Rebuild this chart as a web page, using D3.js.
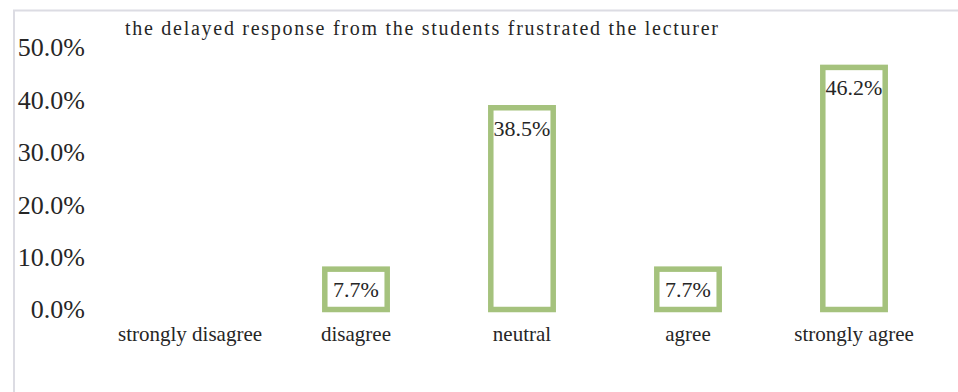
<!DOCTYPE html>
<html>
<head>
<meta charset="utf-8">
<script src="https://cdn.jsdelivr.net/npm/d3@7"></script>
<style>
  html, body { margin: 0; padding: 0; background: #fff; }
  svg { display: block; }
  text { font-family: "Liberation Serif", "Times New Roman", serif; fill: #262626; }
</style>
</head>
<body>
<svg id="chart" width="958" height="392"></svg>
<script>
// Survey responses
const title = "the delayed response from the students frustrated the lecturer";
const categories = ["strongly disagree", "disagree", "neutral", "agree", "strongly agree"];
const values = [0, 7.7, 38.5, 7.7, 46.2];
const tickValues = [0, 10, 20, 30, 40, 50];

const svg = d3.select("#chart");

// chart frame
svg.append("rect")
  .attr("x", 14).attr("y", 10.5)
  .attr("width", 960).attr("height", 400)
  .attr("fill", "none")
  .attr("stroke", "#dcdce3")
  .attr("stroke-width", 2);

const x = d3.scaleBand()
  .domain(categories)
  .range([107, 937])
  .paddingInner(0.624)
  .paddingOuter(0.312);

const y = d3.scaleLinear()
  .domain([0, 50])
  .range([309.5, 47.5]);

// y axis labels (no line, no ticks)
const yAxis = d3.axisLeft(y)
  .tickValues(tickValues)
  .tickFormat(d => d3.format(".1f")(d) + "%")
  .tickSize(0)
  .tickPadding(0);

const gy = svg.append("g")
  .attr("transform", "translate(85,0)")
  .call(yAxis);
gy.select(".domain").remove();
gy.selectAll("text")
  .style("font-family", "'Liberation Serif', serif")
  .style("font-size", "26px")
  .attr("fill", "#262626");

// x axis labels
const xAxis = d3.axisBottom(x).tickSize(0).tickPadding(0);
const gx = svg.append("g")
  .attr("transform", "translate(0,326)")
  .call(xAxis);
gx.select(".domain").remove();
gx.selectAll("text")
  .style("font-family", "'Liberation Serif', serif")
  .style("font-size", "21px")
  .attr("fill", "#262626");

// bars: outlined only
const data = categories.map((c, i) => ({ c, v: values[i] }));
svg.append("g")
  .selectAll("rect")
  .data(data.filter(d => d.v > 0))
  .join("rect")
  .attr("x", d => x(d.c))
  .attr("y", d => y(d.v))
  .attr("width", x.bandwidth())
  .attr("height", d => y(0) - y(d.v))
  .attr("fill", "#fff")
  .attr("stroke", "#a5c27d")
  .attr("stroke-width", 5.5);

// value labels inside bar tops
svg.append("g")
  .selectAll("text")
  .data(data.filter(d => d.v > 0))
  .join("text")
  .attr("x", d => x(d.c) + x.bandwidth() / 2)
  .attr("y", d => y(d.v) + 28)
  .attr("text-anchor", "middle")
  .style("font-size", "22px")
  .text(d => d3.format(".1f")(d.v) + "%");

// title
svg.append("text")
  .attr("x", 125)
  .attr("y", 35)
  .attr("textLength", 593)
  .attr("lengthAdjust", "spacing")
  .style("font-size", "20px")
  .text(title);
</script>
</body>
</html>
